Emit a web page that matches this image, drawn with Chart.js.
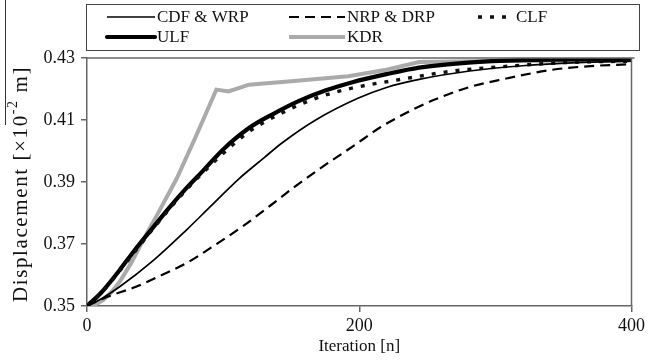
<!DOCTYPE html>
<html>
<head>
<meta charset="utf-8">
<script src="https://cdn.jsdelivr.net/npm/chart.js@4/dist/chart.umd.min.js"></script>
<style>
  html, body { margin: 0; padding: 0; background: #fff; }
  #wrap { width: 648px; height: 361px; position: relative; }
</style>
</head>
<body>
<div id="wrap"><canvas id="chart" width="648" height="361"></canvas></div>
<script>
// Series data (iteration, displacement x1e-2 m)
const seriesNames = ['CDF & WRP', 'NRP & DRP', 'CLF', 'ULF', 'KDR'];

const cdfIter = [0, 10, 24, 49, 73, 90, 111, 130, 143, 168, 199, 220, 244, 281, 320, 360, 400];
const cdfVals = [0.35, 0.3522, 0.3562, 0.3648, 0.3745, 0.3818, 0.3908, 0.3978, 0.4025, 0.41, 0.417, 0.4205, 0.4231, 0.4258, 0.4275, 0.4285, 0.429];

const nrpIter = [0, 15, 36, 55, 73, 90, 114, 135, 153, 175, 197, 215, 240, 256, 280, 305, 342, 370, 400];
const nrpVals = [0.35, 0.353, 0.3562, 0.36, 0.3638, 0.3685, 0.3756, 0.3825, 0.3886, 0.3955, 0.402, 0.4075, 0.4135, 0.4167, 0.4205, 0.4231, 0.4262, 0.4274, 0.428];

const clfIter = [0, 10, 24, 49, 73, 100, 119, 148, 172, 196, 232, 269, 305, 350, 400];
const clfVals = [0.35, 0.354, 0.3613, 0.3752, 0.3875, 0.3992, 0.4062, 0.4133, 0.4176, 0.4204, 0.4232, 0.4258, 0.4272, 0.4285, 0.429];

const ulfIter = [0, 10, 24, 35, 49, 60, 73, 85, 100, 119, 137, 155, 175, 195, 220, 244, 280, 320, 400];
const ulfVals = [0.35, 0.3541, 0.3616, 0.368, 0.3756, 0.3815, 0.388, 0.3935, 0.4005, 0.4074, 0.412, 0.416, 0.4195, 0.4222, 0.4248, 0.4269, 0.4285, 0.4293, 0.4297];

const kdrIter = [0, 6, 12, 18, 24, 32, 44, 52, 59, 66, 80, 95, 104, 119, 150, 192, 220, 244, 300, 400];
const kdrVals = [0.35, 0.3504, 0.352, 0.3545, 0.3578, 0.3635, 0.3735, 0.3798, 0.3855, 0.3912, 0.4047, 0.4198, 0.4192, 0.4214, 0.4225, 0.4241, 0.4262, 0.4287, 0.429, 0.4293];

const xTicks = [0, 200, 400];
const yTicks = [0.35, 0.37, 0.39, 0.41, 0.43];

function pts(xs, ys) {
  return xs.map((x, i) => ({ x: x, y: ys[i] }));
}

const FONT = '"Liberation Serif", "Times New Roman", serif';

// Legend box, plot frame and rotated y title drawn on the canvas
const figureExtras = {
  id: 'figureExtras',
  afterDraw(chart) {
    const ctx = chart.ctx;
    const area = chart.chartArea;
    ctx.save();
    // stray rule at far left of the scanned figure
    ctx.strokeStyle = '#333';
    ctx.lineWidth = 1;
    ctx.beginPath();
    ctx.moveTo(5.5, 0);
    ctx.lineTo(5.5, 125);
    ctx.stroke();

    // frame around the plot (top and right)
    ctx.strokeStyle = '#666';
    ctx.lineWidth = 1.5;
    ctx.beginPath();
    ctx.moveTo(area.left, area.top);
    ctx.lineTo(area.right + 3, area.top);
    ctx.moveTo(area.right, area.top);
    ctx.lineTo(area.right, area.bottom);
    ctx.stroke();

    // legend frame
    ctx.strokeStyle = '#444';
    ctx.lineWidth = 1;
    ctx.strokeRect(86.5, 4.5, 553, 46);

    const slots = [
      { x: 107, y: 17 }, { x: 289, y: 17 }, { x: 478, y: 17 },
      { x: 107, y: 37 }, { x: 289, y: 37 }
    ];
    const lens = [48, 56, 36, 48, 56];
    ctx.font = '17px ' + FONT;
    ctx.textBaseline = 'middle';
    chart.data.datasets.forEach((ds, i) => {
      const s = slots[i];
      ctx.strokeStyle = ds.borderColor;
      ctx.lineWidth = ds.borderWidth;
      ctx.setLineDash(ds.borderDash || []);
      ctx.lineCap = i === 3 ? 'round' : 'butt';
      ctx.beginPath();
      ctx.moveTo(s.x, s.y);
      ctx.lineTo(s.x + lens[i], s.y);
      ctx.stroke();
      ctx.setLineDash([]);
      ctx.fillStyle = '#111';
      ctx.fillText(ds.label, s.x + lens[i] + 2, s.y + 1);
    });

    // y axis title with superscript exponent, spread to the reference length
    const parts = [
      { t: 'Displacement [\u00d710', size: 21, dy: 0 },
      { t: '-2', size: 14, dy: -8 },
      { t: ' m]', size: 21, dy: 0 }
    ];
    const target = 236;
    let natural = 0, nChars = 0;
    parts.forEach(p => {
      ctx.font = p.size + 'px ' + FONT;
      natural += ctx.measureText(p.t).width;
      nChars += p.t.length;
    });
    const spacing = Math.max(0, (target - natural) / nChars);
    ctx.translate(21, 184);
    ctx.rotate(-Math.PI / 2);
    ctx.textBaseline = 'middle';
    ctx.textAlign = 'left';
    ctx.fillStyle = '#111';
    let px = -target / 2;
    parts.forEach(p => {
      ctx.font = p.size + 'px ' + FONT;
      for (const ch of p.t) {
        ctx.fillText(ch, px, p.dy);
        px += ctx.measureText(ch).width + spacing;
      }
    });
    ctx.restore();
  }
};

const ctx = document.getElementById('chart');
new Chart(ctx, {
  type: 'line',
  data: {
    datasets: [
      { label: seriesNames[0], data: pts(cdfIter, cdfVals), borderColor: '#000', borderWidth: 1.7 },
      { label: seriesNames[1], data: pts(nrpIter, nrpVals), borderColor: '#000', borderWidth: 2.2, borderDash: [10, 6] },
      { label: seriesNames[2], data: pts(clfIter, clfVals), borderColor: '#111', borderWidth: 3.4, borderDash: [4, 8] },
      { label: seriesNames[3], data: pts(ulfIter, ulfVals), borderColor: '#000', borderWidth: 4.2 },
      { label: seriesNames[4], data: pts(kdrIter, kdrVals), borderColor: '#aaaaaa', borderWidth: 4,
        cubicInterpolationMode: 'default', tension: 0 }
    ]
  },
  options: {
    responsive: false,
    animation: false,
    elements: { point: { radius: 0 }, line: { cubicInterpolationMode: 'monotone' } },
    layout: { padding: { top: 58, right: 11, left: 0, bottom: 0 } },
    plugins: {
      legend: { display: false },
      tooltip: { enabled: false }
    },
    scales: {
      x: {
        type: 'linear',
        min: 0,
        max: 400,
        afterFit(scale) { scale.height = 55; },
        afterBuildTicks(scale) { scale.ticks = xTicks.map(v => ({ value: v })); },
        border: { color: '#666', width: 1.5 },
        grid: { drawOnChartArea: false, drawTicks: true, tickLength: 6, color: '#666', lineWidth: 1.5 },
        ticks: { color: '#111', font: { family: FONT, size: 18 }, padding: 3, maxRotation: 0 },
        title: { display: true, text: 'Iteration [n]', color: '#111', font: { family: FONT, size: 17 }, padding: { top: 3 } }
      },
      y: {
        type: 'linear',
        min: 0.35,
        max: 0.43,
        afterFit(scale) { scale.width = 87; },
        afterBuildTicks(scale) { scale.ticks = yTicks.map(v => ({ value: v })); },
        border: { color: '#666', width: 1.5 },
        grid: { drawOnChartArea: false, drawTicks: true, tickLength: 6, color: '#666', lineWidth: 1.5 },
        ticks: {
          color: '#111',
          font: { family: FONT, size: 18 },
          padding: 6,
          callback: v => v.toFixed(2)
        }
      }
    }
  },
  plugins: [figureExtras]
});
</script>
</body>
</html>
